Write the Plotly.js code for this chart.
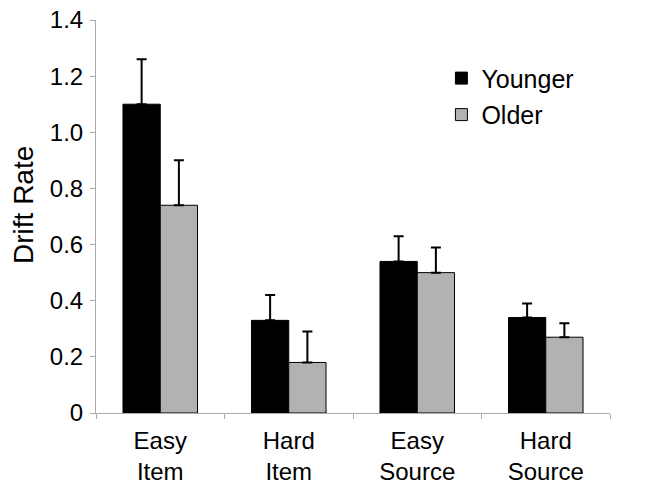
<!DOCTYPE html>
<html>
<head>
<meta charset="utf-8">
<script src="https://cdn.plot.ly/plotly-3.0.1.min.js"></script>
<style>html,body{margin:0;padding:0;background:#fff;}#chart{width:649px;height:490px;}</style>
</head>
<body>
<div id="chart"></div>
<script>
const categories = ["Easy<br>Item", "Hard<br>Item", "Easy<br>Source", "Hard<br>Source"];
const seriesNames = ["Younger", "Older"];
const youngerValues = [1.10, 0.33, 0.54, 0.34];
const youngerErrors = [0.16, 0.09, 0.09, 0.05];
const olderValues = [0.74, 0.18, 0.50, 0.27];
const olderErrors = [0.16, 0.11, 0.09, 0.05];
const yTicks = [0, 0.2, 0.4, 0.6, 0.8, 1.0, 1.2, 1.4];
const yTickLabels = ["0", "0.2", "0.4", "0.6", "0.8", "1.0", "1.2", "1.4"];

const font = "'Liberation Sans', Arial, sans-serif";

function errObj(arr) {
  return {type: "data", symmetric: false, array: arr, arrayminus: arr.map(() => 0),
          color: "#000", thickness: 2, width: 5};
}

const traces = [
  {type: "bar", name: seriesNames[0], x: categories, y: youngerValues,
   marker: {color: "#000000", line: {color: "#000", width: 1}},
   error_y: errObj(youngerErrors), legendgroup: "a"},
  {type: "bar", name: seriesNames[1], x: categories, y: olderValues,
   marker: {color: "#b2b2b2", line: {color: "#000", width: 1}},
   error_y: errObj(olderErrors), legendgroup: "b"}
];

const layout = {
  width: 649, height: 490,
  margin: {l: 96, r: 39, t: 20, b: 77},
  paper_bgcolor: "#fff", plot_bgcolor: "#fff",
  font: {family: font, size: 24, color: "#000"},
  barmode: "group", bargap: 0.42, bargroupgap: 0,
  showlegend: true,
  legend: {x: 0.672, y: 0.91, xanchor: "left", yanchor: "top",
           font: {family: font, size: 25, color: "#000"},
           bgcolor: "rgba(0,0,0,0)", traceorder: "grouped", tracegroupgap: 1},
  xaxis: {
    showline: true, linecolor: "#aaaaaa", linewidth: 1,
    ticks: "outside", tickson: "boundaries", ticklen: 5, tickcolor: "#aaaaaa",
    tickfont: {family: font, size: 24, color: "#000"}, ticklabelstandoff: 6,
    showgrid: false, zeroline: false, fixedrange: true
  },
  yaxis: {
    range: [0, 1.4], tickvals: yTicks, ticktext: yTickLabels,
    showline: true, linecolor: "#aaaaaa", linewidth: 1,
    ticks: "outside", ticklen: 5, tickcolor: "#aaaaaa",
    tickfont: {family: font, size: 24, color: "#000"}, ticklabelstandoff: 2,
    showgrid: false, zeroline: false,
    title: {text: "&nbsp;&nbsp;&nbsp;Drift Rate", font: {family: font, size: 28, color: "#000"}, standoff: 8}
  }
};

Plotly.newPlot("chart", traces, layout, {staticPlot: true, displayModeBar: false});
</script>
</body>
</html>
